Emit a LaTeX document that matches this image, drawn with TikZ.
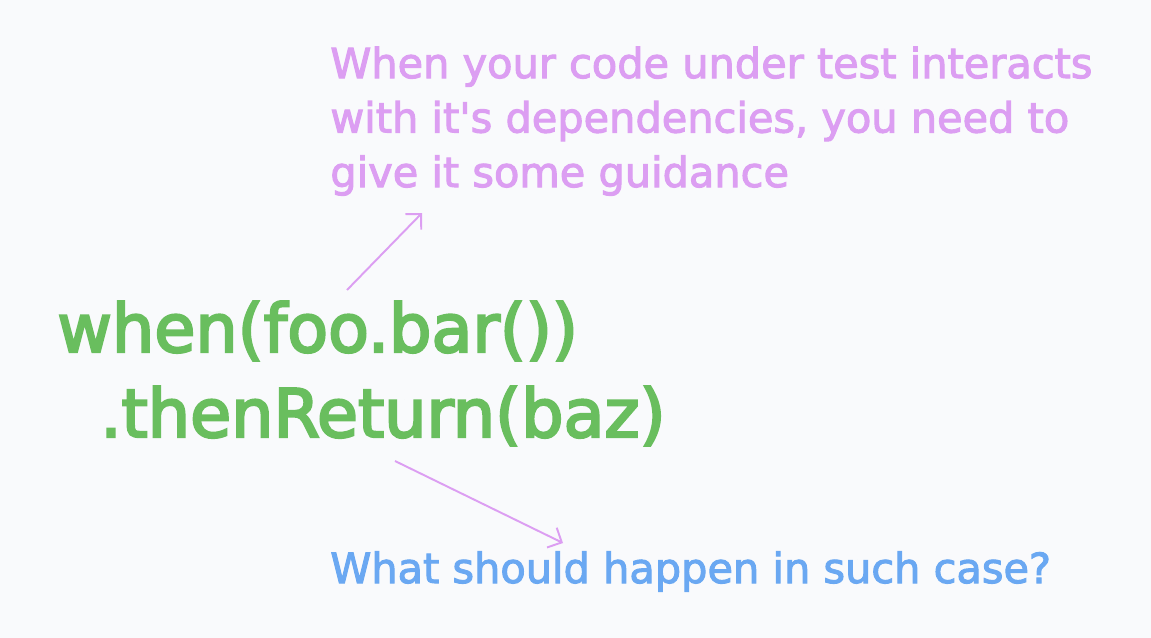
\documentclass[tikz,border=0pt]{standalone}
\usepackage{fontspec}
\setmainfont{DejaVu Sans}
\newfontfamily\handfont[FakeBold=2.5]{DejaVu Sans}
\newfontfamily\codefont[FakeBold=3.5]{DejaVu Sans}
\usepackage{tikz}
\usetikzlibrary{arrows.meta}
\definecolor{notepurple}{HTML}{DC9EF2}
\definecolor{codegreen}{HTML}{69BE5E}
\definecolor{askblue}{HTML}{6AA8F2}
\definecolor{paper}{HTML}{F9FAFC}

\begin{document}
\begin{tikzpicture}[
  note/.style={anchor=base west, inner sep=0pt, align=left, font=\handfont\fontsize{23.6}{31}\selectfont},
  code/.style={anchor=base west, inner sep=0pt, align=left, font=\codefont\fontsize{38}{48.4}\selectfont, text=codegreen},
  arrow/.style={-{Straight Barb[length=2.2mm]}, line width=1.1pt, draw=notepurple}
]
  % Background
  \fill[paper] (0, 0) rectangle (23.02, -12.76);

  % Code
  \node[code] (code) at (1.14, -8.74) {when(foo.bar())\\\hspace*{0.86cm}.thenReturn(baz)};

  % Notes
  \node[note, text=notepurple] (guide) at (6.6, -3.74) {When your code under test interacts\\with it's dependencies, you need to\\give it some guidance};
  \node[note, text=askblue] (ask) at (6.6, -11.66) {What should happen in such case?};

  % Arrows
  \coordinate (whenTail) at (6.94, -5.80);
  \coordinate (guideTip) at (8.44, -4.26);
  \coordinate (returnTail) at (7.90, -9.22);
  \coordinate (askTip) at (11.26, -10.86);
  \draw[arrow] (whenTail) -- (guideTip);
  \draw[arrow] (returnTail) -- (askTip);
\end{tikzpicture}
\end{document}
